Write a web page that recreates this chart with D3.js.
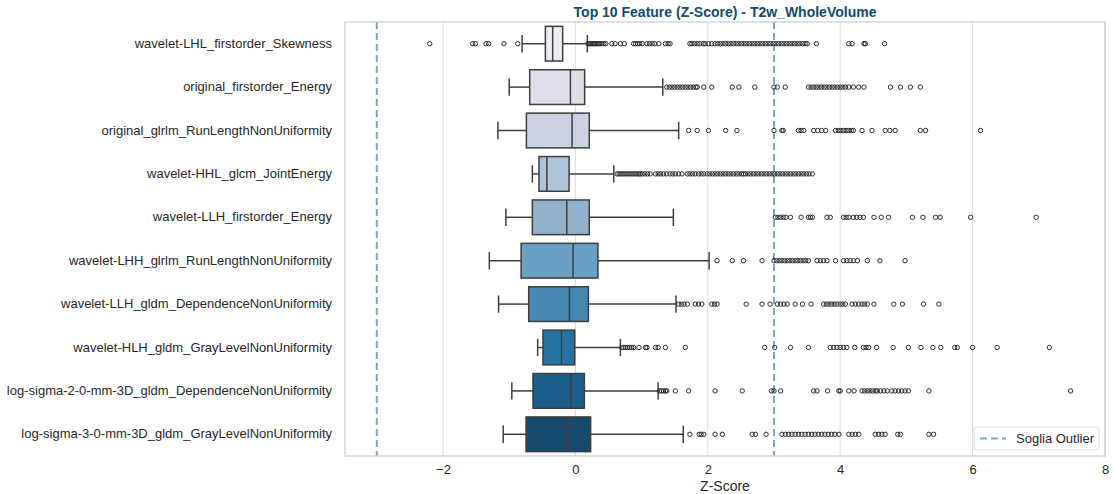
<!DOCTYPE html>
<html>
<head>
<meta charset="utf-8">
<script src="https://cdn.jsdelivr.net/npm/d3@7"></script>
<style>
    body { margin: 0; background: #fff; }
    .chart text { font-family: "Liberation Sans", Arial, sans-serif; }
</style>
</head>
<body>
<div class="chart-container chart"></div>
<script>
// feature names, top to bottom
const features = [
    "wavelet-LHL_firstorder_Skewness",
    "original_firstorder_Energy",
    "original_glrlm_RunLengthNonUniformity",
    "wavelet-HHL_glcm_JointEnergy",
    "wavelet-LLH_firstorder_Energy",
    "wavelet-LHH_glrlm_RunLengthNonUniformity",
    "wavelet-LLH_gldm_DependenceNonUniformity",
    "wavelet-HLH_gldm_GrayLevelNonUniformity",
    "log-sigma-2-0-mm-3D_gldm_DependenceNonUniformity",
    "log-sigma-3-0-mm-3D_gldm_GrayLevelNonUniformity"
];

// box stats
const whiskerLow  = [-0.805, -1.0, -1.17, -0.65, -1.05, -1.3, -1.16, -0.57, -0.96, -1.09];
const q1          = [-0.453, -0.69, -0.74, -0.55, -0.65, -0.82, -0.705, -0.49, -0.64, -0.745];
const medians     = [-0.343, -0.075, -0.05, -0.43, -0.13, -0.035, -0.09, -0.21, -0.07, -0.106];
const q3          = [-0.192, 0.14, 0.21, -0.095, 0.21, 0.34, 0.196, -0.01, 0.136, 0.23];
const whiskerHigh = [0.181, 1.32, 1.56, 0.58, 1.48, 2.02, 1.52, 0.68, 1.25, 1.63];

const outliers = [
    [-2.2, -1.55, -1.51, -1.35, -1.31, -1.08, -0.87,
     0.19, 0.21, 0.23, 0.25, 0.27, 0.29, 0.31, 0.33, 0.35, 0.37, 0.40, 0.43, 0.46, 0.55, 0.60, 0.68, 0.74,
     0.88, 0.91, 0.94, 0.97, 1.01, 1.08, 1.12, 1.16, 1.20, 1.26, 1.36, 1.40, 1.43, 1.73, 1.76, 1.80, 1.84,
     1.88, 1.93, 1.96, 2.01, 2.06, 2.11, 2.15, 2.19, 2.23, 2.27, 2.31, 2.35, 2.39, 2.43, 2.47, 2.51, 2.55,
     2.59, 2.63, 2.67, 2.71, 2.75, 2.79, 2.83, 2.87, 2.91, 2.95, 2.99, 3.03, 3.07, 3.11, 3.15, 3.19, 3.23,
     3.27, 3.31, 3.35, 3.39, 3.43, 3.47, 3.50, 3.64, 4.13, 4.18, 4.36, 4.38, 4.67],
    [1.38, 1.42, 1.46, 1.50, 1.54, 1.58, 1.62, 1.66, 1.70, 1.74, 1.78, 1.82, 1.84, 1.94, 2.06, 2.37, 2.47,
     2.71, 3.00, 3.05, 3.17, 3.52, 3.56, 3.60, 3.64, 3.68, 3.72, 3.76, 3.80, 3.84, 3.88, 3.92, 3.96, 4.00,
     4.04, 4.08, 4.13, 4.20, 4.28, 4.36, 4.76, 4.91, 5.06, 5.21],
    [1.71, 1.84, 2.01, 2.27, 2.44, 3.00, 3.12, 3.14, 3.37, 3.41, 3.45, 3.60, 3.66, 3.72, 3.78, 3.93, 3.97,
     4.01, 4.05, 4.09, 4.13, 4.17, 4.20, 4.33, 4.48, 4.68, 4.75, 4.83, 5.21, 5.29, 6.12],
    [0.63, 0.66, 0.69, 0.72, 0.75, 0.78, 0.81, 0.84, 0.87, 0.90, 0.93, 0.96, 0.98, 1.01, 1.05, 1.09, 1.13,
     1.21, 1.25, 1.29, 1.33, 1.38, 1.43, 1.47, 1.51, 1.56, 1.61, 1.69, 1.73, 1.77, 1.81, 1.86, 1.90, 1.94,
     1.99, 2.03, 2.07, 2.11, 2.15, 2.19, 2.23, 2.27, 2.31, 2.35, 2.39, 2.43, 2.47, 2.51, 2.54, 2.57, 2.61,
     2.65, 2.69, 2.73, 2.77, 2.81, 2.85, 2.89, 2.93, 2.97, 3.01, 3.05, 3.09, 3.13, 3.17, 3.21, 3.25, 3.29,
     3.33, 3.37, 3.41, 3.45, 3.49, 3.53, 3.58],
    [3.02, 3.06, 3.10, 3.14, 3.18, 3.25, 3.41, 3.52, 3.55, 3.58, 3.80, 3.85, 4.05, 4.09, 4.13, 4.20, 4.25,
     4.30, 4.35, 4.51, 4.62, 4.73, 5.09, 5.25, 5.44, 5.51, 5.97, 6.96],
    [2.14, 2.37, 2.54, 2.82, 3.00, 3.04, 3.08, 3.12, 3.16, 3.20, 3.24, 3.28, 3.32, 3.36, 3.40, 3.44, 3.48,
     3.52, 3.65, 3.70, 3.75, 3.80, 3.93, 4.05, 4.10, 4.15, 4.20, 4.26, 4.41, 4.60, 4.98],
    [1.56, 1.60, 1.64, 1.69, 1.81, 1.86, 1.91, 2.06, 2.10, 2.14, 2.58, 2.82, 2.94, 3.05, 3.10, 3.15, 3.20,
     3.32, 3.43, 3.56, 3.75, 3.79, 3.83, 3.87, 3.91, 3.95, 4.00, 4.04, 4.08, 4.18, 4.23, 4.28, 4.33, 4.37,
     4.41, 4.51, 4.81, 4.94, 5.26, 5.49],
    [0.70, 0.73, 0.76, 0.79, 0.82, 0.85, 0.88, 0.96, 1.06, 1.08, 1.21, 1.25, 1.36, 1.66, 2.86, 3.01, 3.25,
     3.52, 3.85, 3.90, 3.95, 4.00, 4.05, 4.10, 4.22, 4.35, 4.39, 4.43, 4.55, 4.80, 5.03, 5.22, 5.40, 5.52,
     5.73, 5.77, 6.00, 6.37, 7.16],
    [1.27, 1.30, 1.33, 1.36, 1.38, 1.51, 1.71, 2.11, 2.52, 2.96, 3.00, 3.10, 3.60, 3.65, 3.81, 3.98, 4.00,
     4.13, 4.21, 4.33, 4.37, 4.41, 4.45, 4.49, 4.53, 4.56, 4.61, 4.66, 4.71, 4.78, 4.83, 4.88, 4.93, 4.98,
     5.03, 5.34, 7.48],
    [1.73, 1.87, 1.90, 1.94, 2.11, 2.22, 2.67, 2.72, 2.88, 3.12, 3.17, 3.22, 3.27, 3.32, 3.37, 3.42, 3.47,
     3.52, 3.57, 3.62, 3.67, 3.72, 3.77, 3.82, 3.87, 3.92, 3.98, 4.13, 4.18, 4.23, 4.28, 4.53, 4.58, 4.63,
     4.68, 4.87, 4.91, 5.34, 5.41]
];

const boxColors = [
    "#efecf3", "#dfdfec", "#cdd2e3", "#b0c3dc", "#92b1cc",
    "#6aa1c3", "#4589b1", "#2673a4", "#1a5f8c", "#164a6c"
];

const xTicks = [-2, 0, 2, 4, 6, 8];
const thresholds = [-3, 3];

const width = 1114;
const height = 494;
const margin = { top: 22, right: 9, bottom: 38, left: 345 };
const lineColor = "#3d3d3d";

let svg = d3.select(".chart-container").append("svg")
    .attr("width", width)
    .attr("height", height);

let xScale = d3.scaleLinear()
    .domain([-3.48, 8.0])
    .range([margin.left, width - margin.right]);
let yScale = d3.scaleBand()
    .domain(features)
    .range([margin.top, height - margin.bottom]);

const bw = yScale.bandwidth();
const boxH = bw * 0.8;

// vertical grid
svg.append("g")
    .selectAll("line")
    .data(xTicks)
    .enter()
    .append("line")
    .attr("x1", d => xScale(d))
    .attr("x2", d => xScale(d))
    .attr("y1", margin.top)
    .attr("y2", height - margin.bottom)
    .attr("stroke", "#dcdcdc")
    .attr("stroke-width", 1);

// x axis
let xAxis = d3.axisBottom(xScale)
    .tickValues(xTicks)
    .tickSize(0)
    .tickPadding(9)
    .tickFormat(d => d < 0 ? "\u2212" + Math.abs(d) : d);
let gx = svg.append("g")
    .attr("transform", "translate(0," + (height - margin.bottom) + ")")
    .call(xAxis);
gx.select(".domain").remove();
gx.selectAll("text").attr("font-size", 13).attr("fill", "#262626");

// y axis labels
let yAxis = d3.axisLeft(yScale).tickSize(0).tickPadding(13);
let gy = svg.append("g")
    .attr("transform", "translate(" + margin.left + ",0)")
    .call(yAxis);
gy.select(".domain").remove();
gy.selectAll("text").attr("font-size", 13).attr("fill", "#262626");

// outlier threshold lines
svg.append("g")
    .selectAll("line")
    .data(thresholds)
    .enter()
    .append("line")
    .attr("x1", d => xScale(d))
    .attr("x2", d => xScale(d))
    .attr("y1", margin.top)
    .attr("y2", height - margin.bottom)
    .attr("stroke", "#71a7d3")
    .attr("stroke-width", 2)
    .attr("stroke-dasharray", "7,4");

// boxes
const rows = features.map((f, i) => ({
    name: f, lo: whiskerLow[i], q1: q1[i], med: medians[i], q3: q3[i], hi: whiskerHigh[i],
    out: outliers[i], color: boxColors[i]
}));

let g = svg.selectAll(".box")
    .data(rows)
    .enter()
    .append("g")
    .attr("class", "box")
    .attr("transform", d => "translate(0," + (yScale(d.name) + bw / 2) + ")");

// whiskers
g.append("line")
    .attr("x1", d => xScale(d.lo)).attr("x2", d => xScale(d.q1))
    .attr("y1", 0).attr("y2", 0)
    .attr("stroke", lineColor).attr("stroke-width", 1.5);
g.append("line")
    .attr("x1", d => xScale(d.q3)).attr("x2", d => xScale(d.hi))
    .attr("y1", 0).attr("y2", 0)
    .attr("stroke", lineColor).attr("stroke-width", 1.5);
// caps
["lo", "hi"].forEach(k => {
    g.append("line")
        .attr("x1", d => xScale(d[k])).attr("x2", d => xScale(d[k]))
        .attr("y1", -boxH / 4).attr("y2", boxH / 4)
        .attr("stroke", lineColor).attr("stroke-width", 1.5);
});

g.append("rect")
    .attr("x", d => xScale(d.q1))
    .attr("y", -boxH / 2)
    .attr("width", d => xScale(d.q3) - xScale(d.q1))
    .attr("height", boxH)
    .attr("fill", d => d.color)
    .attr("stroke", lineColor)
    .attr("stroke-width", 1.5);

g.append("line")
    .attr("x1", d => xScale(d.med)).attr("x2", d => xScale(d.med))
    .attr("y1", -boxH / 2).attr("y2", boxH / 2)
    .attr("stroke", lineColor).attr("stroke-width", 1.5);

// fliers
g.selectAll("circle")
    .data(d => d.out)
    .enter()
    .append("circle")
    .attr("cx", d => xScale(d))
    .attr("cy", 0)
    .attr("r", 2.2)
    .attr("fill", "none")
    .attr("stroke", "#2b2b2b")
    .attr("stroke-width", 1);

// frame
svg.append("rect")
    .attr("x", margin.left)
    .attr("y", margin.top)
    .attr("width", width - margin.left - margin.right)
    .attr("height", height - margin.top - margin.bottom)
    .attr("fill", "none")
    .attr("stroke", "#cccccc")
    .attr("stroke-width", 1.25);

// title and axis label
const cx = (margin.left + width - margin.right) / 2;
svg.append("text")
    .attr("x", cx)
    .attr("y", 17)
    .attr("text-anchor", "middle")
    .attr("font-size", 14)
    .attr("font-weight", "bold")
    .attr("fill", "#124a6c")
    .text("Top 10 Feature (Z-Score) - T2w_WholeVolume");
svg.append("text")
    .attr("x", cx)
    .attr("y", 491)
    .attr("text-anchor", "middle")
    .attr("font-size", 14)
    .attr("fill", "#262626")
    .text("Z-Score");

// legend
let legend = svg.append("g").attr("transform", "translate(974,427)");
legend.append("rect")
    .attr("width", 125).attr("height", 23)
    .attr("rx", 3)
    .attr("fill", "#fff")
    .attr("stroke", "#dcdcdc");
legend.append("line")
    .attr("x1", 6).attr("x2", 32).attr("y1", 11.5).attr("y2", 11.5)
    .attr("stroke", "#71a7d3").attr("stroke-width", 2)
    .attr("stroke-dasharray", "7,4");
legend.append("text")
    .attr("x", 42).attr("y", 16)
    .attr("font-size", 13)
    .attr("fill", "#262626")
    .text("Soglia Outlier");
</script>
</body>
</html>
